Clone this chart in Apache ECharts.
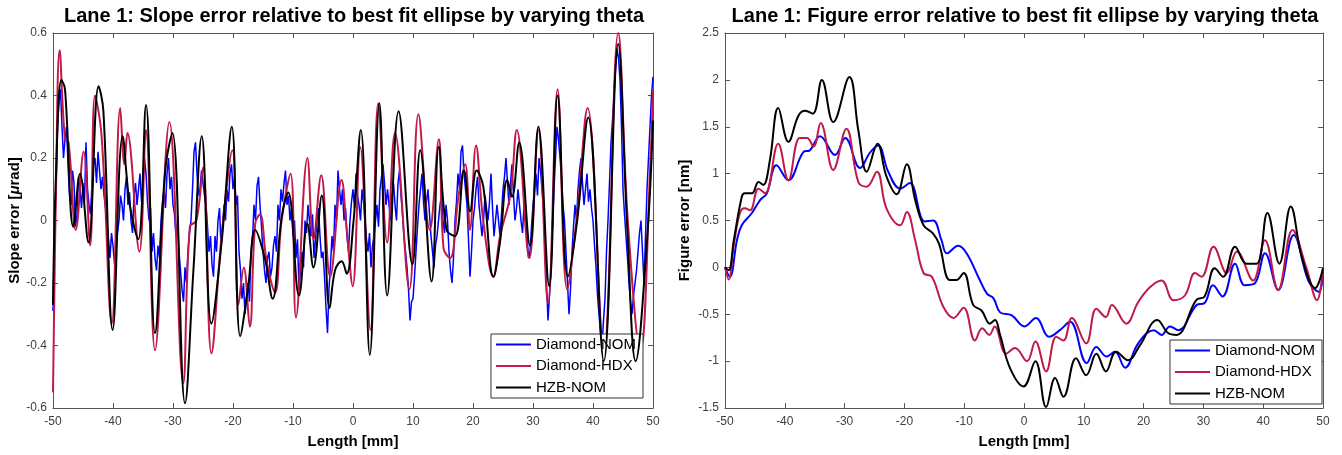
<!DOCTYPE html>
<html>
<head>
<meta charset="utf-8">
<script src="https://cdn.jsdelivr.net/npm/echarts@6/dist/echarts.min.js"></script>
<style>
  html, body { margin: 0; padding: 0; background: #fff; }
  #chart { width: 1342px; height: 455px; }
</style>
</head>
<body>
<div id="chart"></div>
<script>
const seriesNames = ["Diamond-NOM", "Diamond-HDX", "HZB-NOM"];
const colors = ["#0000ff", "#c21a48", "#000000"];

// slope error, Diamond-NOM sampled every 0.25 mm from -50 mm
const slopeNomStart = -50, slopeNomStep = 0.25;
const slopeNom = [
  -0.29, -0.05, 0.10, 0.30, 0.38, 0.42, 0.30, 0.20, 0.26, 0.30, 0.18, 0.08, 0.05, 0.16, 0.12, -0.02, 0.02, 0.14, 0.10, 0.04,
  0.12, 0.06, 0.25, 0.10, 0.05, 0.02, 0.12, 0.18, 0.20, 0.12, 0.22, 0.16, 0.10, 0.14, 0.08, 0.04, 0.00, -0.06, -0.12, -0.04,
  -0.08, -0.14, -0.10, -0.04, 0.00, 0.08, 0.05, 0.00, 0.10, 0.14, 0.05, 0.09, 0.00, -0.04, 0.08, 0.12, 0.05, 0.10, 0.15, 0.06,
  0.12, 0.20, 0.15, 0.06, 0.00, 0.04, -0.10, -0.04, -0.12, -0.16, -0.08, -0.12, 0.00, 0.06, 0.10, 0.04, 0.15, 0.20, 0.10, 0.14,
  0.05, 0.02, -0.05, 0.00, -0.10, -0.16, -0.22, -0.26, -0.15, -0.20, -0.10, -0.04, 0.00, 0.10, 0.22, 0.25, 0.15, 0.08, 0.10, 0.16,
  0.12, 0.08, 0.05, -0.02, -0.10, -0.05, -0.14, -0.18, -0.05, -0.10, 0.00, 0.04, -0.08, -0.02, 0.05, 0.00, 0.10, 0.06, 0.15, 0.18,
  0.10, 0.14, 0.05, 0.08, -0.10, -0.16, -0.25, -0.20, -0.30, -0.25, -0.20, -0.26, -0.10, -0.06, 0.05, 0.00, 0.11, 0.14, 0.05, -0.02,
  -0.10, -0.16, -0.20, -0.12, -0.10, -0.18, -0.15, -0.08, -0.05, -0.10, 0.05, 0.00, 0.10, 0.06, 0.12, 0.16, 0.05, 0.08, 0.00, 0.04,
  -0.05, 0.00, -0.12, -0.06, -0.22, -0.16, -0.10, -0.15, 0.00, -0.04, 0.05, 0.00, -0.05, 0.02, -0.12, -0.06, 0.00, 0.04, -0.05, -0.12,
  -0.10, -0.18, -0.28, -0.36, -0.22, -0.14, -0.05, -0.10, 0.05, 0.00, 0.16, 0.10, 0.05, 0.10, 0.00, 0.04, -0.05, -0.10, 0.00, 0.06,
  0.10, 0.04, 0.15, 0.08, 0.05, 0.00, 0.10, 0.06, 0.00, -0.06, -0.10, -0.04, -0.15, -0.08, -0.05, 0.00, 0.05, -0.02, 0.10, 0.14,
  0.18, 0.12, 0.05, 0.10, 0.05, 0.00, 0.08, 0.12, 0.05, 0.00, 0.12, 0.16, 0.08, 0.02, -0.05, -0.10, -0.15, -0.22, -0.32, -0.26,
  -0.25, -0.18, -0.10, -0.02, 0.05, 0.10, 0.15, 0.06, 0.00, 0.06, 0.10, 0.02, -0.05, -0.10, -0.15, -0.08, -0.05, 0.00, 0.05, 0.08,
  0.00, -0.04, 0.05, 0.00, -0.10, -0.16, -0.20, -0.12, 0.00, 0.06, 0.15, 0.10, 0.22, 0.24, 0.15, 0.10, 0.05, -0.06, -0.18, -0.10,
  0.00, 0.04, 0.10, 0.14, 0.05, 0.00, -0.05, 0.00, 0.08, 0.04, 0.00, 0.06, 0.15, 0.04, -0.05, 0.00, 0.05, 0.00, -0.05, 0.02,
  0.10, 0.14, 0.20, 0.12, 0.05, 0.12, 0.18, 0.08, 0.00, 0.04, 0.10, 0.05, 0.00, -0.04, 0.05, 0.00, -0.05, -0.12, -0.10, -0.02,
  0.05, 0.10, 0.15, 0.08, 0.20, 0.16, 0.10, 0.04, -0.05, -0.20, -0.32, -0.24, -0.15, -0.02, 0.10, 0.20, 0.30, 0.26, 0.20, 0.14,
  0.05, 0.00, -0.10, -0.20, -0.30, -0.22, -0.10, -0.02, 0.05, 0.00, 0.10, 0.16, 0.20, 0.12, 0.05, 0.10, 0.15, 0.06, 0.10, 0.04,
  0.00, -0.08, -0.15, -0.24, -0.30, -0.36, -0.40, -0.32, -0.25, -0.10, 0.00, 0.12, 0.25, 0.32, 0.40, 0.48, 0.55, 0.52, 0.45, 0.30,
  0.10, 0.02, -0.05, -0.12, -0.20, -0.26, -0.30, -0.24, -0.20, -0.16, -0.10, -0.04, 0.00, -0.10, -0.20, -0.05, 0.10, 0.20, 0.30, 0.40,
  0.46
];

const slopeHdx = [
  [-50, -0.55], [-49.5, 0.1], [-48.9, 0.545], [-48, 0.26], [-47.4, 0.25], [-46.2, -0.03],
  [-44.9, 0.22], [-43.8, -0.08], [-43, 0.40], [-41.9, 0.27], [-40.2, -0.33], [-38.8, 0.36],
  [-38.1, 0.18], [-37.6, 0.28], [-35.6, -0.10], [-34.5, 0.29], [-33, -0.415], [-30.6, 0.315],
  [-28.3, -0.52], [-27.2, -0.02], [-26.1, 0.0], [-25, 0.17], [-23.6, -0.425], [-21.9, -0.05],
  [-20.1, 0.225], [-19.1, -0.27], [-18.2, -0.15], [-17.2, -0.34], [-16.3, -0.01], [-15.5, 0.02],
  [-14.4, -0.13], [-13, -0.23], [-11.9, 0], [-10.4, 0.15], [-9.5, -0.31], [-7.6, 0.2],
  [-6.6, -0.06], [-5.3, 0.145], [-3.8, -0.18], [-1.9, 0.13], [-1.05, -0.03], [-0.05, -0.21],
  [1.2, 0.235], [2.9, -0.35], [4.2, 0.375], [5.7, -0.07], [7.0, 0.28], [9.4, -0.22],
  [10.9, 0.34], [12.8, -0.03], [14.3, 0.26], [15.1, -0.09], [16.2, -0.12], [17.6, 0.08],
  [18.7, 0.18], [19.5, -0.03], [20.5, 0.24], [21.7, 0], [23.4, -0.18], [24.5, -0.05],
  [26.2, 0.08], [27.3, 0.29], [29.4, -0.12], [30.9, 0.29], [32.5, -0.265], [34.1, 0.42],
  [35.7, -0.22], [37.3, 0.01], [39.1, 0.36], [41.8, -0.42], [44.2, 0.6], [45.8, 0.0],
  [47.9, -0.42], [49.6, 0.2], [50, 0.42]
];

const slopeHzb = [
  [-50, -0.27], [-49.5, 0.15], [-48.6, 0.45], [-48, 0.42], [-46.6, -0.02], [-45.5, 0.15],
  [-44.1, -0.07], [-42.4, 0.43], [-41.6, 0.35], [-40.05, -0.35], [-38.4, 0.27], [-37.2, 0.05],
  [-35.8, -0.06], [-34.5, 0.37], [-33, -0.36], [-31.3, 0.16], [-30.1, 0.28], [-28, -0.585],
  [-26.6, -0.16], [-25.2, 0.27], [-23.6, -0.33], [-21.9, -0.07], [-20.2, 0.30], [-18.8, -0.37],
  [-17.4, -0.2], [-16.3, -0.03], [-14.7, -0.12], [-13.4, -0.25], [-11.9, 0.01], [-10.8, 0.09],
  [-9.0, -0.24], [-7.6, -0.01], [-6.6, -0.15], [-5.2, 0.08], [-3.9, -0.28], [-3.0, -0.16],
  [-1.9, -0.13], [-1.05, -0.17], [0.05, -0.01], [1.3, 0.29], [2.8, -0.43], [4.4, 0.375],
  [5.7, -0.24], [7.6, 0.35], [9.9, -0.14], [11.2, 0.225], [13.1, -0.195], [14.3, 0.235],
  [15.6, -0.03], [17.0, -0.05], [18.5, 0.16], [19.5, 0.03], [20.6, 0.16], [21.7, 0.11],
  [23.4, -0.18], [24.5, -0.07], [25.7, 0.13], [26.5, 0.076], [27.7, 0.25], [29.5, -0.08],
  [30.9, 0.30], [32.7, -0.21], [34.1, 0.40], [35.8, -0.18], [37.3, -0.01], [39.2, 0.33],
  [41.8, -0.45], [44.2, 0.565], [45.7, -0.02], [47.1, -0.45], [49.05, -0.05], [50, 0.32]
];

const figNom = [
  [-50, 0], [-49.2, -0.1], [-48, 0.29], [-47.2, 0.45], [-45.5, 0.58], [-44.1, 0.72],
  [-43, 0.79], [-41.4, 1.09], [-39.4, 0.93], [-36.9, 1.23], [-35.8, 1.25], [-34.1, 1.40],
  [-31.6, 1.20], [-29.9, 1.38], [-27.4, 1.06], [-25.8, 1.22], [-24.4, 1.30], [-22.7, 1.02],
  [-20.7, 0.84], [-19.1, 0.90], [-16.6, 0.49], [-15.2, 0.50], [-13.8, 0.29], [-12.9, 0.15],
  [-11.0, 0.23], [-9.6, 0.15], [-7.4, -0.135], [-6.2, -0.28], [-5.1, -0.33], [-4, -0.48],
  [-2.1, -0.51], [0.1, -0.63], [2.0, -0.54], [4.2, -0.74], [6.0, -0.67], [7.7, -0.58],
  [10.5, -1.02], [12.1, -0.85], [13.8, -0.95], [15.2, -0.90], [16.9, -1.07], [19.1, -0.81],
  [21.7, -0.67], [23.0, -0.72], [24.4, -0.63], [25.8, -0.67], [28.9, -0.40], [30.2, -0.38],
  [31.6, -0.19], [33.2, -0.31], [35.3, 0.04], [36.9, -0.19], [38.6, -0.17], [40.3, 0.15],
  [42.5, -0.24], [45.1, 0.345], [47.6, -0.15], [49.3, -0.26], [50, -0.01]
];

const figHdx = [
  [-50, 0], [-49.4, -0.13], [-48.5, 0.25], [-47.5, 0.58], [-46.7, 0.63], [-45.8, 0.61],
  [-44.4, 0.84], [-43.3, 0.79], [-41.1, 1.32], [-39.4, 0.93], [-37.5, 1.38], [-36.3, 1.38],
  [-35.2, 1.29], [-34.0, 1.54], [-31.9, 1.04], [-29.7, 1.48], [-27.7, 0.91], [-26.3, 0.86],
  [-24.6, 1.02], [-23.0, 0.63], [-20.7, 0.45], [-19.6, 0.59], [-18.2, 0.29], [-16.8, -0.06],
  [-15.4, -0.10], [-13.5, -0.42], [-11.8, -0.54], [-10.1, -0.43], [-8.2, -0.78], [-7.0, -0.65],
  [-5.8, -0.72], [-4.9, -0.63], [-3, -0.92], [-1.5, -0.86], [0.5, -1.0], [1.9, -0.79],
  [3.7, -1.11], [5.4, -0.74], [6.6, -0.78], [8.0, -0.54], [10.4, -0.81], [12.1, -0.44],
  [13.7, -0.53], [14.7, -0.40], [17.1, -0.60], [19.1, -0.37], [21.1, -0.21], [23.0, -0.14],
  [25.0, -0.35], [26.9, -0.30], [28.6, -0.06], [29.7, -0.10], [31.7, 0.22], [33.9, -0.06],
  [35.6, 0.17], [38.3, -0.14], [40.3, 0.29], [42.5, -0.24], [44.9, 0.40], [47.2, 0.0],
  [49.0, -0.35], [50, -0.01]
];

const figHzb = [
  [-50, 0], [-49.4, -0.03], [-48.5, 0.3], [-47.2, 0.75], [-46.7, 0.79], [-45.5, 0.79],
  [-44.4, 0.91], [-43.6, 0.88], [-42.5, 1.14], [-41.1, 1.70], [-39.4, 1.34], [-37.7, 1.62],
  [-36.6, 1.67], [-35.3, 1.64], [-33.8, 2.0], [-31.9, 1.55], [-29.2, 2.03], [-27.7, 1.46],
  [-26.3, 1.02], [-24.5, 1.32], [-23.0, 0.97], [-21.3, 0.78], [-19.6, 1.10], [-18.2, 0.72],
  [-16.8, 0.45], [-15.2, 0.36], [-14.2, 0.25], [-12.4, -0.135], [-11.3, -0.135], [-10.1, -0.06],
  [-8.5, -0.40], [-7.1, -0.46], [-5.7, -0.60], [-4.85, -0.56], [-4, -0.72], [-2.3, -1.08],
  [-0.07, -1.27], [1.9, -1.0], [3.7, -1.49], [5.2, -1.18], [6.6, -1.38], [8.7, -0.97],
  [10.4, -1.15], [12.1, -0.92], [13.7, -1.11], [15.4, -0.90], [17.4, -0.99], [19.4, -0.83],
  [22.3, -0.56], [24.1, -0.70], [25.5, -0.72], [28.8, -0.35], [30.2, -0.31], [31.9, -0.01],
  [33.3, -0.1], [35.3, 0.22], [37.2, 0.04], [38.9, 0.04], [40.7, 0.58], [42.7, 0.04],
  [44.6, 0.65], [46.5, 0.1], [48.7, -0.22], [50, -0.01]
];

const fontFamily = "'Liberation Sans', Arial, sans-serif";
const axisColor = "#555";
const labelColor = "#404040";

function xAxes(grid) {
  return [
    {
      gridIndex: grid, type: "value", position: "bottom", min: -50, max: 50, interval: 10,
      axisLine: { onZero: false, lineStyle: { color: axisColor, width: 1 } },
      axisTick: { inside: true, length: 5, lineStyle: { color: axisColor } },
      axisLabel: { color: labelColor, fontSize: 12, margin: 8, fontFamily },
      splitLine: { show: false },
      name: "Length [mm]", nameLocation: "middle", nameGap: 26,
      nameTextStyle: { color: "#000", fontWeight: "bold", fontSize: 15, fontFamily }
    },
    {
      gridIndex: grid, type: "value", position: "top", min: -50, max: 50, interval: 10,
      axisLine: { onZero: false, lineStyle: { color: axisColor, width: 1 } },
      axisTick: { inside: true, length: 5, lineStyle: { color: axisColor } },
      axisLabel: { show: false }, splitLine: { show: false }
    }
  ];
}

function yAxes(grid, min, max, interval, name, gap, rich) {
  return [
    {
      gridIndex: grid, type: "value", position: "left", min, max, interval,
      axisLine: { show: true, onZero: false, lineStyle: { color: axisColor, width: 1 } },
      axisTick: { show: true, inside: true, length: 5, lineStyle: { color: axisColor } },
      axisLabel: { color: labelColor, fontSize: 12, margin: 6, fontFamily },
      splitLine: { show: false },
      name, nameLocation: "middle", nameGap: gap,
      nameTextStyle: { color: "#000", fontWeight: "bold", fontSize: 15, fontFamily, rich }
    },
    {
      gridIndex: grid, type: "value", position: "right", min, max, interval,
      axisLine: { show: true, onZero: false, lineStyle: { color: axisColor, width: 1 } },
      axisTick: { show: true, inside: true, length: 5, lineStyle: { color: axisColor } },
      axisLabel: { show: false }, splitLine: { show: false }
    }
  ];
}

function lineSeries(name, idx, data, axis, width, smooth) {
  return {
    name, type: "line", data, xAxisIndex: axis, yAxisIndex: axis,
    symbol: "none", smooth,
    lineStyle: { color: colors[idx], width },
    itemStyle: { color: colors[idx] },
    emphasis: { disabled: true }, z: 2 + idx
  };
}

function legendAt(right, bottom) {
  return {
    data: seriesNames, orient: "vertical", right, bottom,
    backgroundColor: "#fff", borderColor: "#333", borderWidth: 1,
    padding: [3, 7, 3, 5], icon: "rect", itemWidth: 35, itemHeight: 2, itemGap: 6.5, itemTextGap: 5,
    selectedMode: false,
    textStyle: { color: "#000", fontSize: 15, fontFamily }
  };
}

const slopeNomData = slopeNom.map((v, i) => [slopeNomStart + i * slopeNomStep, v]);

const chart = echarts.init(document.getElementById("chart"), null, { renderer: "canvas" });

const option = {
  animation: false,
  backgroundColor: "#fff",
  textStyle: { fontFamily },
  title: [
    {
      text: "Lane 1: Slope error relative to best fit ellipse by varying theta",
      left: 354, top: 6, padding: 0, textAlign: "center",
      textStyle: { color: "#000", fontWeight: "bold", fontSize: 20, fontFamily }
    },
    {
      text: "Lane 1: Figure error relative to best fit ellipse by varying theta",
      left: 1025, top: 6, padding: 0, textAlign: "center",
      textStyle: { color: "#000", fontWeight: "bold", fontSize: 20, fontFamily }
    }
  ],
  grid: [
    { left: 53, width: 600, top: 33, height: 375 },
    { left: 725, width: 598, top: 33, height: 375 }
  ],
  xAxis: [...xAxes(0), ...xAxes(1)],
  yAxis: [
    ...yAxes(0, -0.6, 0.6, 0.2, "Slope error [{i|μ}rad]", 31,
      { i: { fontStyle: "italic", fontWeight: "bold", fontSize: 15, color: "#000", fontFamily } }),
    ...yAxes(1, -1.5, 2.5, 0.5, "Figure error [nm]", 33, {})
  ],
  legend: [legendAt(699, 57), legendAt(20, 51)],
  series: [
    lineSeries(seriesNames[0], 0, slopeNomData, 0, 1.5, false),
    lineSeries(seriesNames[1], 1, slopeHdx, 0, 2, 0.4),
    lineSeries(seriesNames[2], 2, slopeHzb, 0, 2, 0.4),
    lineSeries(seriesNames[0], 0, figNom, 2, 2, 0.4),
    lineSeries(seriesNames[1], 1, figHdx, 2, 2, 0.4),
    lineSeries(seriesNames[2], 2, figHzb, 2, 2, 0.4)
  ]
};

chart.setOption(option);
</script>
</body>
</html>
